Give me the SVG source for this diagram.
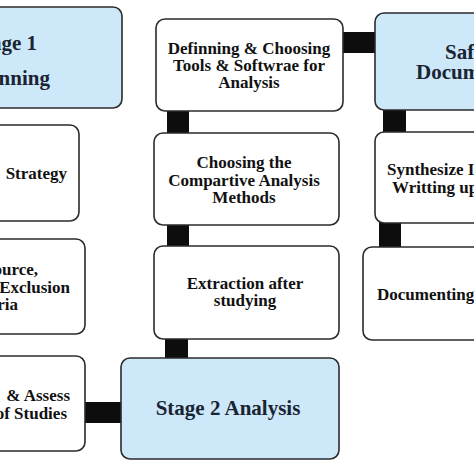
<svg xmlns="http://www.w3.org/2000/svg" width="474" height="474" viewBox="0 0 474 474">
<style>
.box{fill:#fff;stroke:#2b2b2b;stroke-width:1.6}
.stage{fill:#cde9f9;stroke:#2b2b2b;stroke-width:1.6}
.t{font-family:"Liberation Serif","Times New Roman",serif;font-weight:bold;font-size:17px;fill:#111}
.ts{font-family:"Liberation Serif","Times New Roman",serif;font-weight:bold;font-size:21px;fill:#1a2433}
.c{text-anchor:middle}
.e{text-anchor:end}
.conn{fill:#0d0d0d}
</style>
<rect width="474" height="474" fill="#fff"/>
<g id="connectors">
<rect class="conn" x="342" y="32" width="34" height="21"/>
<rect class="conn" x="167" y="110" width="22" height="24"/>
<rect class="conn" x="167" y="224" width="22" height="23"/>
<rect class="conn" x="165" y="338" width="23" height="21"/>
<rect class="conn" x="84" y="402" width="38" height="21"/>
<rect class="conn" x="383" y="109" width="23" height="24"/>
<rect class="conn" x="379" y="222" width="22" height="26"/>
</g>
<g id="stage1">
<rect class="stage" x="-20" y="7" width="142" height="101" rx="9"/>
<text class="ts e" x="37" y="50">Stage 1</text>
<text class="ts e" x="50" y="85">Planning</text>
</g>
<g id="defining">
<rect class="box" x="156" y="19" width="187" height="92" rx="9"/>
<text class="t c" x="249" y="54">Definning &amp; Choosing</text>
<text class="t c" x="249" y="71">Tools &amp; Softwrae for</text>
<text class="t c" x="249" y="88">Analysis</text>
</g>
<g id="safety">
<rect class="stage" x="375" y="13" width="120" height="97" rx="9"/>
<text class="ts" x="445" y="59">Safety</text>
<text class="ts" x="416" y="79">Documentation</text>
</g>
<g id="strategy">
<rect class="box" x="-20" y="125" width="99" height="96" rx="9"/>
<text class="t e" x="67" y="179">Strategy</text>
</g>
<g id="source">
<rect class="box" x="-20" y="239" width="105" height="95" rx="9"/>
<text class="t e" x="38" y="275">Source,</text>
<text class="t e" x="70" y="293">Exclusion</text>
<text class="t e" x="18" y="310">Criteria</text>
</g>
<g id="assess">
<rect class="box" x="-20" y="356" width="105" height="95" rx="9"/>
<text class="t e" x="70" y="401">&amp; Assess</text>
<text class="t e" x="67" y="419">of Studies</text>
</g>
<g id="choosing">
<rect class="box" x="154" y="133" width="185" height="92" rx="9"/>
<text class="t c" x="244" y="168">Choosing the</text>
<text class="t c" x="244" y="186">Compartive Analysis</text>
<text class="t c" x="244" y="203">Methods</text>
</g>
<g id="extraction">
<rect class="box" x="154" y="246" width="185" height="93" rx="9"/>
<text class="t c" x="245" y="289">Extraction after</text>
<text class="t c" x="245" y="306">studying</text>
</g>
<g id="stage2">
<rect class="stage" x="121" y="358" width="218" height="101" rx="9"/>
<text class="ts c" x="228" y="415">Stage 2 Analysis</text>
</g>
<g id="synthesize">
<rect class="box" x="375" y="132" width="120" height="91" rx="9"/>
<text class="t" x="387" y="175">Synthesize I</text>
<text class="t" x="392" y="193">Writting up</text>
</g>
<g id="documenting">
<rect class="box" x="363" y="247" width="130" height="93" rx="9"/>
<text class="t" x="377" y="300">Documenting</text>
</g>
</svg>
